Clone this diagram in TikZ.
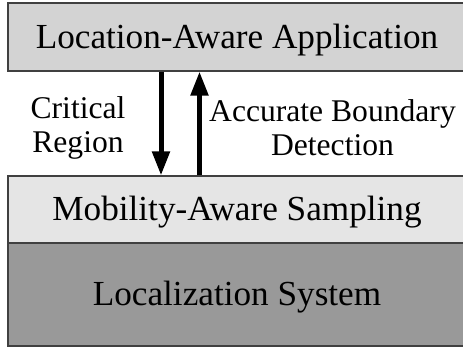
\documentclass[tikz,border=0pt]{standalone}
\usepackage{fontspec}
\setmainfont{Liberation Serif}
\usetikzlibrary{arrows.meta}
\definecolor{appgray}{RGB}{211,211,211}
\definecolor{samplegray}{RGB}{229,229,229}
\definecolor{locgray}{RGB}{153,153,153}
\definecolor{edgegray}{RGB}{64,64,64}

\begin{document}
\begin{tikzpicture}[x=1pt,y=1pt,
    layer/.style={draw=edgegray,line width=1.2pt,minimum width=458pt,inner sep=0pt,
        font=\fontsize{35.2}{40}\selectfont,text height=23pt,text depth=0pt},
    flow/.style={line width=5pt,-{Triangle[length=24pt,width=17pt]}},
    tag/.style={align=center,font=\fontsize{31.6}{34}\selectfont}]
    \useasboundingbox (0,0) rectangle (463,350);
    % the three layers
    \node[layer,fill=locgray,minimum height=103pt] (loc) at (237,55.5) {Localization System};
    \node[layer,fill=samplegray,minimum height=67pt] (samp) at (237,140.5) {Mobility-Aware Sampling};
    \node[layer,fill=appgray,minimum height=68pt] (app) at (237,313) {Location-Aware Application};
    % arrows between application and sampling
    \draw[flow] ([xshift=-76pt]app.south) -- ([xshift=-76pt]samp.north);
    \draw[flow] ([xshift=-37.5pt]samp.north) -- ([xshift=-37.5pt]app.south);
    \node[tag] (crit) at (78,222) {Critical\\Region};
    \node[tag] (acc) at (332.5,222) {Accurate Boundary\\Detection};
\end{tikzpicture}
\end{document}
